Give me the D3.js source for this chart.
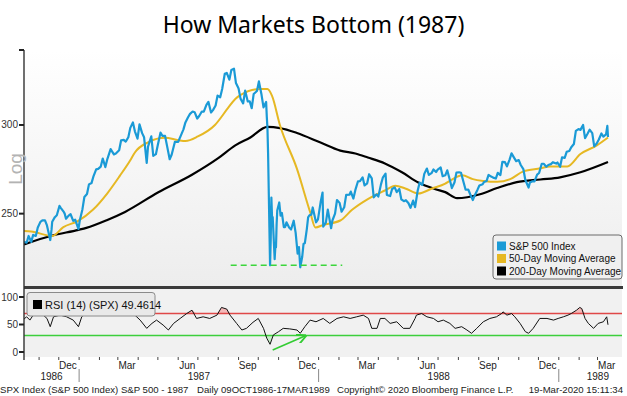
<!DOCTYPE html>
<html>
<head>
<meta charset="utf-8">
<script src="https://cdnjs.cloudflare.com/ajax/libs/d3/7.8.5/d3.min.js"></script>
<style>
  body { margin: 0; background: #fff; }
  svg text { font-family: "Liberation Sans", Arial, sans-serif; }
</style>
</head>
<body>
<div id="chart"></div>
<script>
var spx = [
  ["1986-10-09",235.9],["1986-10-13",235.5],["1986-10-16",238.8],["1986-10-20",235.9],["1986-10-23",239.3],
  ["1986-10-27",238.8],["1986-10-30",243.0],["1986-11-03",245.8],["1986-11-06",246.6],["1986-11-10",246.6],
  ["1986-11-13",244.0],["1986-11-18",236.8],["1986-11-20",242.0],["1986-11-21",245.9],["1986-11-25",248.2],
  ["1986-11-28",249.2],["1986-12-02",254.0],["1986-12-04",253.0],["1986-12-08",251.2],["1986-12-10",250.0],
  ["1986-12-12",247.4],["1986-12-16",249.0],["1986-12-19",249.7],["1986-12-23",246.3],["1986-12-26",246.9],
  ["1986-12-31",242.2],["1987-01-02",246.5],["1987-01-06",252.2],["1987-01-09",258.7],["1987-01-13",260.3],
  ["1987-01-16",265.5],["1987-01-20",266.3],["1987-01-23",270.1],["1987-01-27",273.8],["1987-01-30",274.1],
  ["1987-02-03",275.4],["1987-02-06",280.0],["1987-02-10",275.1],["1987-02-13",279.7],["1987-02-18",285.5],
  ["1987-02-23",282.4],["1987-02-26",282.9],["1987-03-03",284.8],["1987-03-06",290.7],["1987-03-10",290.9],
  ["1987-03-13",289.9],["1987-03-17",292.5],["1987-03-20",298.2],["1987-03-24",301.6],["1987-03-27",296.1],
  ["1987-03-31",291.7],["1987-04-03",300.4],["1987-04-07",295.0],["1987-04-10",292.5],["1987-04-14",277.5],
  ["1987-04-16",286.9],["1987-04-21",293.1],["1987-04-24",281.5],["1987-04-28",282.5],["1987-05-01",288.0],
  ["1987-05-05",295.3],["1987-05-08",293.4],["1987-05-12",293.3],["1987-05-15",287.4],["1987-05-19",279.6],
  ["1987-05-22",282.2],["1987-05-27",289.8],["1987-06-01",289.8],["1987-06-05",293.5],["1987-06-09",297.3],
  ["1987-06-12",301.6],["1987-06-16",304.8],["1987-06-19",306.9],["1987-06-23",308.4],["1987-06-26",308.0],
  ["1987-06-30",304.0],["1987-07-03",305.6],["1987-07-07",308.4],["1987-07-10",308.4],["1987-07-14",312.7],
  ["1987-07-17",314.6],["1987-07-21",307.8],["1987-07-24",309.3],["1987-07-28",312.3],["1987-07-31",318.7],
  ["1987-08-04",317.6],["1987-08-07",323.0],["1987-08-11",333.3],["1987-08-14",333.9],["1987-08-18",329.3],
  ["1987-08-21",335.9],["1987-08-25",336.8],["1987-08-28",327.0],["1987-09-01",323.4],["1987-09-04",316.7],
  ["1987-09-08",313.6],["1987-09-11",322.0],["1987-09-15",314.9],["1987-09-18",314.9],["1987-09-21",310.5],
  ["1987-09-24",319.7],["1987-09-29",321.7],["1987-10-02",328.1],["1987-10-06",319.2],["1987-10-09",311.1],
  ["1987-10-13",314.5],["1987-10-14",305.2],["1987-10-15",298.1],["1987-10-16",282.7],["1987-10-19",224.8],
  ["1987-10-20",236.8],["1987-10-21",258.4],["1987-10-22",248.2],["1987-10-23",248.2],["1987-10-26",227.7],
  ["1987-10-27",233.2],["1987-10-28",233.3],["1987-10-29",244.8],["1987-10-30",251.8],["1987-11-02",255.8],
  ["1987-11-04",249.0],["1987-11-06",250.4],["1987-11-09",243.2],["1987-11-11",243.2],["1987-11-13",245.6],
  ["1987-11-17",243.0],["1987-11-20",242.0],["1987-11-24",246.4],["1987-11-27",240.3],["1987-11-30",230.3],
  ["1987-12-02",233.4],["1987-12-04",223.9],["1987-12-07",228.8],["1987-12-09",234.9],["1987-12-11",235.3],
  ["1987-12-14",242.2],["1987-12-16",248.1],["1987-12-18",249.2],["1987-12-21",249.5],["1987-12-23",253.2],
  ["1987-12-28",245.6],["1987-12-31",247.1],["1988-01-04",255.9],["1988-01-07",261.1],["1988-01-08",243.4],
  ["1988-01-12",245.4],["1988-01-15",252.1],["1988-01-20",242.6],["1988-01-22",246.5],["1988-01-26",250.0],
  ["1988-01-29",257.1],["1988-02-02",255.6],["1988-02-05",251.0],["1988-02-09",253.3],["1988-02-12",259.8],
  ["1988-02-17",259.9],["1988-02-19",261.6],["1988-02-23",257.9],["1988-02-26",262.5],["1988-03-01",267.2],
  ["1988-03-04",267.3],["1988-03-08",269.4],["1988-03-11",264.9],["1988-03-15",266.1],["1988-03-18",271.1],
  ["1988-03-22",268.8],["1988-03-25",258.5],["1988-03-29",260.1],["1988-04-01",258.9],["1988-04-05",265.5],
  ["1988-04-08",269.4],["1988-04-12",271.4],["1988-04-14",259.8],["1988-04-19",259.2],["1988-04-22",263.0],
  ["1988-04-26",263.9],["1988-04-29",261.3],["1988-05-03",263.0],["1988-05-06",257.5],["1988-05-10",256.5],
  ["1988-05-13",257.0],["1988-05-17",255.4],["1988-05-20",253.0],["1988-05-24",256.8],["1988-05-27",253.4],
  ["1988-05-31",262.2],["1988-06-03",266.5],["1988-06-07",265.2],["1988-06-10",271.3],["1988-06-14",274.3],
  ["1988-06-17",270.7],["1988-06-21",271.7],["1988-06-24",273.8],["1988-06-28",272.3],["1988-06-30",273.5],
  ["1988-07-05",274.9],["1988-07-08",270.0],["1988-07-12",270.5],["1988-07-15",273.3],["1988-07-19",267.9],
  ["1988-07-22",263.5],["1988-07-26",266.5],["1988-07-29",272.0],["1988-08-02",272.2],["1988-08-05",271.9],
  ["1988-08-09",266.5],["1988-08-12",262.6],["1988-08-16",262.7],["1988-08-19",260.2],["1988-08-23",257.1],
  ["1988-08-26",259.7],["1988-08-30",262.5],["1988-09-02",264.9],["1988-09-07",265.6],["1988-09-09",266.8],
  ["1988-09-13",267.4],["1988-09-16",270.7],["1988-09-20",269.8],["1988-09-23",269.2],["1988-09-27",268.7],
  ["1988-09-30",271.9],["1988-10-04",270.6],["1988-10-07",278.1],["1988-10-11",277.9],["1988-10-14",275.5],
  ["1988-10-18",279.4],["1988-10-21",283.0],["1988-10-25",280.4],["1988-10-28",278.5],["1988-11-01",279.1],
  ["1988-11-04",276.3],["1988-11-08",274.0],["1988-11-11",267.9],["1988-11-16",263.8],["1988-11-18",266.5],
  ["1988-11-22",267.2],["1988-11-25",267.2],["1988-11-29",270.9],["1988-12-02",271.8],["1988-12-06",277.0],
  ["1988-12-09",277.0],["1988-12-13",275.3],["1988-12-16",276.3],["1988-12-20",276.8],["1988-12-23",277.9],
  ["1988-12-28",277.1],["1988-12-30",277.7],["1989-01-03",275.3],["1989-01-06",280.7],["1989-01-10",280.4],
  ["1989-01-13",283.9],["1989-01-17",284.4],["1989-01-20",286.6],["1989-01-24",288.5],["1989-01-27",296.4],
  ["1989-01-31",297.5],["1989-02-03",297.0],["1989-02-07",300.0],["1989-02-10",292.0],["1989-02-14",294.8],
  ["1989-02-17",297.1],["1989-02-21",295.0],["1989-02-24",287.1],["1989-02-28",288.9],["1989-03-03",291.2],
  ["1989-03-07",294.8],["1989-03-10",292.9],["1989-03-14",294.2],["1989-03-16",299.4],["1989-03-17",292.7]
];

// 50-day moving average
var ma50 = [
  ["1986-10-09",241.3],["1986-10-20",241.0],["1986-11-21",238.8],["1986-12-08",243.2],["1986-12-30",246.2],
  ["1987-01-22",252.0],["1987-02-13",260.7],["1987-03-04",270.2],["1987-03-20",279.0],["1987-03-27",283.5],
  ["1987-04-16",289.5],["1987-05-12",292.2],["1987-06-01",290.8],["1987-06-12",290.3],["1987-07-01",293.0],
  ["1987-07-27",300.0],["1987-08-16",310.7],["1987-08-27",316.5],["1987-09-03",318.8],["1987-10-04",323.0],
  ["1987-10-15",323.0],["1987-10-22",318.5],["1987-11-03",300.0],["1987-11-29",274.1],["1987-12-19",250.9],
  ["1987-12-27",243.0],["1988-01-08",244.3],["1988-02-03",246.5],["1988-02-21",252.0],["1988-03-16",257.6],
  ["1988-04-11",262.2],["1988-04-27",264.8],["1988-05-12",263.3],["1988-06-01",260.6],["1988-06-22",263.3],
  ["1988-07-12",265.9],["1988-07-19",267.4],["1988-08-07",270.5],["1988-08-23",268.4],["1988-09-08",267.4],
  ["1988-09-29",266.9],["1988-10-19",268.4],["1988-11-08",272.7],["1988-12-04",274.4],["1988-12-19",275.5],
  ["1989-01-14",275.5],["1989-02-03",282.6],["1989-02-28",287.7],["1989-03-17",292.4]
];

// 200-day moving average
var ma200 = [
  ["1986-10-09",234.7],["1986-11-20",238.9],["1986-12-31",241.8],["1987-01-12",242.8],["1987-02-13",246.8],
  ["1987-03-12",250.9],["1987-05-01",261.1],["1987-06-22",270.8],["1987-08-01",280.2],["1987-08-27",287.7],
  ["1987-09-19",292.4],["1987-10-15",298.8],["1987-11-03",298.1],["1987-11-29",295.1],["1988-01-03",289.5],
  ["1988-02-03",284.6],["1988-02-26",282.9],["1988-03-16",280.6],["1988-04-11",277.2],["1988-05-07",272.2],
  ["1988-06-01",266.5],["1988-06-27",262.9],["1988-07-12",261.3],["1988-07-30",258.1],["1988-09-03",260.2],
  ["1988-09-29",263.5],["1988-10-29",266.7],["1988-12-04",268.2],["1989-01-03",269.4],["1989-02-03",272.2],
  ["1989-03-17",278.0]
];

// RSI (14)
var rsi = [
  ["1986-10-09",60],["1986-10-13",64],["1986-10-18",58],["1986-10-23",67],["1986-11-02",73],["1986-11-13",61],
  ["1986-11-18",46],["1986-11-23",64],["1986-12-03",67],["1986-12-13",64],["1986-12-23",58],["1986-12-31",46],
  ["1987-01-05",64],["1987-01-13",73],["1987-01-23",76],["1987-02-02",76],["1987-02-12",68],["1987-02-22",70],
  ["1987-03-04",67],["1987-03-15",70],["1987-03-22",74],["1987-03-27",67],["1987-04-04",58],["1987-04-14",43],
  ["1987-04-22",52],["1987-04-29",58],["1987-05-09",49],["1987-05-17",40],["1987-05-25",52],["1987-06-04",61],
  ["1987-06-14",70],["1987-06-22",76],["1987-06-29",61],["1987-07-09",64],["1987-07-19",61],["1987-07-30",67],
  ["1987-08-06",81],["1987-08-14",78],["1987-08-19",67],["1987-08-29",52],["1987-09-06",40],["1987-09-13",43],
  ["1987-09-23",54],["1987-10-01",61],["1987-10-09",43],["1987-10-14",25],["1987-10-19",14],["1987-10-24",31],
  ["1987-11-01",37],["1987-11-08",43],["1987-11-18",42],["1987-11-29",40],["1987-12-04",34],["1987-12-11",46],
  ["1987-12-19",58],["1987-12-28",55],["1988-01-08",61],["1988-01-18",52],["1988-01-29",61],["1988-02-08",64],
  ["1988-02-18",61],["1988-02-28",64],["1988-03-09",67],["1988-03-17",61],["1988-03-22",43],["1988-03-30",43],
  ["1988-04-04",61],["1988-04-11",61],["1988-04-19",52],["1988-04-29",55],["1988-05-09",43],["1988-05-19",43],
  ["1988-05-27",61],["1988-05-29",67],["1988-06-06",70],["1988-06-14",64],["1988-06-24",61],["1988-07-01",55],
  ["1988-07-09",58],["1988-07-19",52],["1988-07-27",43],["1988-08-06",46],["1988-08-14",40],["1988-08-21",34],
  ["1988-08-29",43],["1988-09-08",55],["1988-09-18",61],["1988-09-28",64],["1988-10-06",70],["1988-10-08",73],
  ["1988-10-14",67],["1988-10-21",70],["1988-10-26",64],["1988-11-03",52],["1988-11-11",37],["1988-11-16",34],
  ["1988-11-23",43],["1988-12-03",61],["1988-12-14",61],["1988-12-24",58],["1988-12-31",61],["1989-01-08",64],
  ["1989-01-15",67],["1989-01-20",70],["1989-01-28",76],["1989-02-02",81],["1989-02-05",79],["1989-02-10",61],
  ["1989-02-15",52],["1989-02-23",43],["1989-03-02",52],["1989-03-10",55],["1989-03-15",64],["1989-03-17",49.5]
];

var priceTicks = [250, 300, 350];
var priceLabels = ["250", "300", ""];
var rsiTicks = [0, 50, 100];
var rsiLevels = [70, 30];
var legendNames = ["S&P 500 Index", "50-Day Moving Average", "200-Day Moving Average"];
var legendColors = ["#1a9ad6", "#e6b823", "#000000"];
var rsiLabel = "RSI (14) (SPX) 49.4614";
var years = [1986, 1987, 1988, 1989];
// dashed line at the crash lows
var support = { level: 224.8, from: "1987-08-20", to: "1988-02-06" };
// arrow on the rsi panel
var arrowPts = [["1987-10-23", 3.5], ["1987-12-11", 29]];

var parse = d3.timeParse("%Y-%m-%d");
function prep(arr) { return arr.map(function(d) { return { date: parse(d[0]), v: d[1] }; }); }
var spxData = prep(spx), ma50Data = prep(ma50), ma200Data = prep(ma200), rsiData = prep(rsi);

var W = 627, H = 396,
    left = 24, panelRight = 622,
    mainTop = 50, mainBot = 287,
    rsiTop = 289, rsiBot = 357;

var svg = d3.select("#chart").append("svg").attr("width", W).attr("height", H);

var x = d3.scaleTime().domain([parse("1986-10-09"), parse("1989-03-17")]).range([left, 608]);
var y = d3.scaleLog().domain([215, 350]).range([mainBot, mainTop]);
var yr = d3.scaleLinear().domain([0, 100]).range([352, 297]);

var defs = svg.append("defs");
var grad = defs.append("linearGradient").attr("id", "bg").attr("x1", 0).attr("y1", 0).attr("x2", 0).attr("y2", 1);
grad.append("stop").attr("offset", "0%").attr("stop-color", "#ffffff");
grad.append("stop").attr("offset", "100%").attr("stop-color", "#ededed");
defs.append("clipPath").attr("id", "clipMain").append("rect")
    .attr("x", left).attr("y", mainTop).attr("width", panelRight - left).attr("height", mainBot - mainTop);
defs.append("clipPath").attr("id", "clipRsi").append("rect")
    .attr("x", left).attr("y", rsiTop).attr("width", panelRight - left).attr("height", rsiBot - rsiTop);
defs.append("marker").attr("id", "arrow").attr("viewBox", "0 0 10 10").attr("refX", 8).attr("refY", 5)
    .attr("markerWidth", 6).attr("markerHeight", 6).attr("orient", "auto")
  .append("path").attr("d", "M0,0 L10,5 L0,10").attr("fill", "none").attr("stroke", "#33cc33").attr("stroke-width", 2);

// title
svg.append("text").attr("x", W / 2).attr("y", 33).attr("text-anchor", "middle")
    .style("font-family", "'Noto Sans', sans-serif").style("font-size", "23px").attr("fill", "#000")
    .text("How Markets Bottom (1987)");

// panels
svg.append("rect").attr("x", left).attr("y", mainTop).attr("width", panelRight - left).attr("height", mainBot - mainTop)
    .attr("fill", "url(#bg)");
svg.append("rect").attr("x", left).attr("y", rsiTop).attr("width", panelRight - left).attr("height", rsiBot - rsiTop)
    .attr("fill", "#f1f1f1");

// price lines
var gMain = svg.append("g").attr("clip-path", "url(#clipMain)");
function priceLine() {
  return d3.line().x(function(d) { return x(d.date); }).y(function(d) { return y(d.v); });
}
gMain.append("path").datum(ma200Data).attr("d", priceLine().curve(d3.curveMonotoneX))
    .attr("fill", "none").attr("stroke", legendColors[2]).attr("stroke-width", 2.2);
gMain.append("path").datum(ma50Data).attr("d", priceLine().curve(d3.curveMonotoneX))
    .attr("fill", "none").attr("stroke", legendColors[1]).attr("stroke-width", 2);
gMain.append("path").datum(spxData).attr("d", priceLine())
    .attr("fill", "none").attr("stroke", legendColors[0]).attr("stroke-width", 2.2).attr("stroke-linejoin", "round");

// support line
svg.append("line")
    .attr("x1", x(parse(support.from))).attr("x2", x(parse(support.to)))
    .attr("y1", y(support.level)).attr("y2", y(support.level))
    .attr("stroke", "#3bd63b").attr("stroke-width", 1.6).attr("stroke-dasharray", "6,4");

// legend
var lg = svg.append("g");
lg.append("rect").attr("x", 493).attr("y", 235).attr("width", 129).attr("height", 44).attr("rx", 3)
    .attr("fill", "#f0f0f0").attr("stroke", "#6b6b6b");
legendNames.forEach(function(n, i) {
  var cy = 246 + i * 12.5;
  lg.append("rect").attr("x", 497).attr("y", cy - 4.5).attr("width", 9).attr("height", 9).attr("fill", legendColors[i]);
  lg.append("text").attr("x", 509).attr("y", cy + 3.5).style("font-size", "10px").attr("fill", "#111").text(n);
});

// separator bar between the panels
svg.append("rect").attr("x", left).attr("y", 286).attr("width", panelRight - left + 1).attr("height", 3).attr("fill", "#3a3a3a");

// rsi panel
var gRsi = svg.append("g").attr("clip-path", "url(#clipRsi)");
gRsi.append("path").datum(rsiData)
    .attr("d", d3.area().x(function(d) { return x(d.date); }).y0(yr(70))
      .y1(function(d) { return yr(Math.max(d.v, 70)); }))
    .attr("fill", "#f3b9b9");
gRsi.append("path").datum(rsiData)
    .attr("d", d3.area().x(function(d) { return x(d.date); }).y0(yr(30))
      .y1(function(d) { return yr(Math.min(d.v, 30)); }))
    .attr("fill", "#c9efc9");
gRsi.selectAll(".lvl").data(rsiLevels).enter().append("line")
    .attr("x1", left).attr("x2", panelRight)
    .attr("y1", function(d) { return yr(d); }).attr("y2", function(d) { return yr(d); })
    .attr("stroke", function(d) { return d === 70 ? "#e04848" : "#3ccf3c"; }).attr("stroke-width", 1.3);
gRsi.append("path").datum(rsiData)
    .attr("d", d3.line().x(function(d) { return x(d.date); }).y(function(d) { return yr(d.v); }))
    .attr("fill", "none").attr("stroke", "#111").attr("stroke-width", 1);

// arrow
svg.append("line")
    .attr("x1", x(parse(arrowPts[0][0]))).attr("y1", yr(arrowPts[0][1]))
    .attr("x2", x(parse(arrowPts[1][0]))).attr("y2", yr(arrowPts[1][1]))
    .attr("stroke", "#33cc33").attr("stroke-width", 1.6).attr("marker-end", "url(#arrow)");

// rsi label box
svg.append("rect").attr("x", 27).attr("y", 292.5).attr("width", 128).attr("height", 23.5).attr("rx", 3)
    .attr("fill", "#e9e9e9").attr("stroke", "#8a8a8a");
svg.append("rect").attr("x", 33).attr("y", 300).attr("width", 9).attr("height", 9).attr("fill", "#000");
svg.append("text").attr("x", 45).attr("y", 308.5).style("font-size", "11px").attr("fill", "#111").text(rsiLabel);

// y axes
svg.append("line").attr("x1", left).attr("x2", left).attr("y1", mainTop).attr("y2", 360)
    .attr("stroke", "#333").attr("stroke-width", 1.4);
priceTicks.forEach(function(t, i) {
  svg.append("line").attr("x1", left - 5).attr("x2", left).attr("y1", y(t)).attr("y2", y(t))
      .attr("stroke", "#222").attr("stroke-width", 2);
  svg.append("text").attr("x", left - 6).attr("y", y(t) + 3.5).attr("text-anchor", "end")
      .style("font-size", "10px").attr("fill", "#333").text(priceLabels[i]);
});
rsiTicks.forEach(function(t) {
  svg.append("line").attr("x1", left - 5).attr("x2", left).attr("y1", yr(t)).attr("y2", yr(t))
      .attr("stroke", "#222").attr("stroke-width", 2);
  svg.append("text").attr("x", left - 6).attr("y", yr(t) + 3.5).attr("text-anchor", "end")
      .style("font-size", "10px").attr("fill", "#333").text(t);
});
svg.append("text").attr("transform", "translate(15,169) rotate(-90)").attr("text-anchor", "middle")
    .attr("dominant-baseline", "central").style("font-size", "19px").attr("fill", "#b3b3b3").text("Log");

// x axis: monthly ticks, quarterly month labels, year labels
var months = d3.timeMonth.range(parse("1986-11-01"), parse("1989-04-01"));
svg.selectAll(".mt").data(months).enter().append("line")
    .attr("x1", function(d) { return x(d); }).attr("x2", function(d) { return x(d); })
    .attr("y1", rsiBot).attr("y2", rsiBot + 3).attr("stroke", "#444").attr("stroke-width", 1);
var quarterMonths = months.filter(function(d) { return (d.getMonth() + 1) % 3 === 0; });
svg.selectAll(".ml").data(quarterMonths).enter().append("text")
    .attr("x", function(d) { return x(d3.timeDay.offset(d, 14)); }).attr("y", 369)
    .attr("text-anchor", "middle").style("font-size", "10px").attr("fill", "#222")
    .text(d3.timeFormat("%b"));
var axisEnd = parse("1989-04-30");
years.forEach(function(yv) {
  var s = Math.max(x(new Date(yv, 0, 1)), left);
  var e = Math.min(x(new Date(yv + 1, 0, 1)), x(axisEnd));
  svg.append("text").attr("x", (s + e) / 2).attr("y", 380).attr("text-anchor", "middle")
      .style("font-size", "10px").attr("fill", "#222").text(yv);
  if (yv > 1986) {
    svg.append("line").attr("x1", x(new Date(yv, 0, 1))).attr("x2", x(new Date(yv, 0, 1)))
        .attr("y1", 369).attr("y2", 382).attr("stroke", "#888").attr("stroke-width", 1);
  }
});

// footer
var foot = svg.append("g").style("font-size", "9.6px").attr("fill", "#222");
foot.append("text").attr("x", 0).attr("y", 393).text("SPX Index (S&P 500 Index) S&P 500 - 1987");
foot.append("text").attr("x", 197).attr("y", 393).text("Daily 09OCT1986-17MAR1989");
foot.append("text").attr("x", 337).attr("y", 393).text("Copyright\u00a9 2020 Bloomberg Finance L.P.");
foot.append("text").attr("x", 623).attr("y", 393).attr("text-anchor", "end").text("19-Mar-2020 15:11:34");
</script>
</body>
</html>
